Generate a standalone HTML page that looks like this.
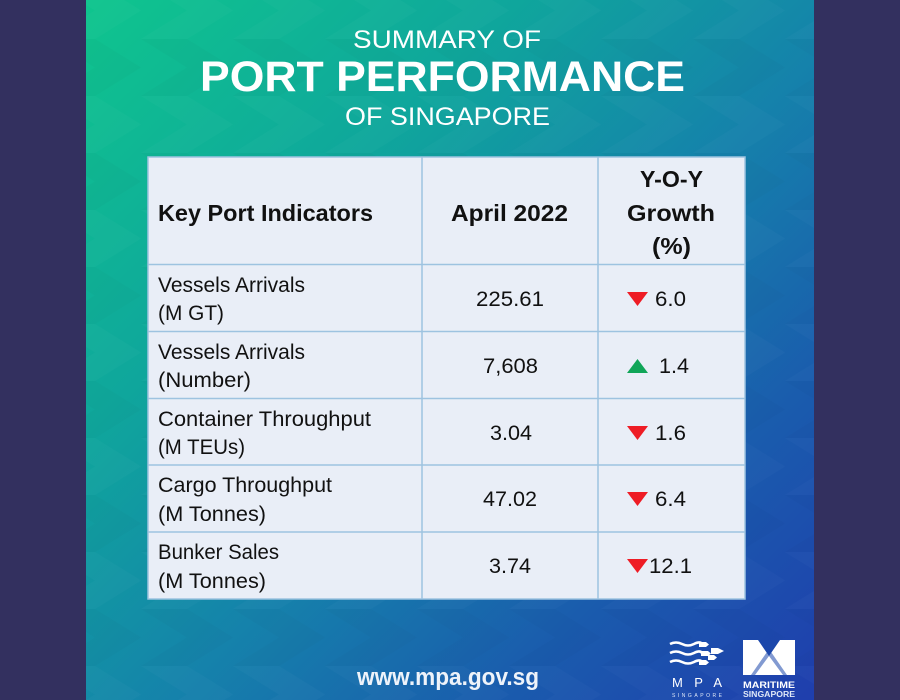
<!DOCTYPE html>
<html lang="en">
<head>
<meta charset="utf-8">
<title>Summary of Port Performance of Singapore</title>
<style>
  html, body { margin: 0; padding: 0; background: #33305f; }
  body { width: 900px; height: 700px; overflow: hidden; }
  svg { display: block; font-family: "Liberation Sans", sans-serif; }
  .cell { fill: #111; font-size: 21px; }
  .head { fill: #111; font-size: 23px; font-weight: bold; }
  .title { fill: #fff; }
</style>
</head>
<body>
<svg width="900" height="700" viewBox="0 0 900 700" xmlns="http://www.w3.org/2000/svg">
  <defs>
    <linearGradient id="bg" gradientUnits="userSpaceOnUse" x1="100" y1="0" x2="800" y2="700">
      <stop offset="0" stop-color="#0fc48e"/>
      <stop offset="0.3" stop-color="#0fa69c"/>
      <stop offset="0.55" stop-color="#1582ab"/>
      <stop offset="0.78" stop-color="#1a5cad"/>
      <stop offset="1" stop-color="#1f3fad"/>
    </linearGradient>
    <pattern id="chev" patternUnits="userSpaceOnUse" x="86" y="-18" width="92" height="114">
      <g fill="#fff" opacity="0.018">
        <polygon points="-37,0 9,0 55,28.500 9,57 -37,57 9,28.500"/>
        <polygon points="55,0 101,0 147,28.500 101,57 55,57 101,28.500"/>
      </g>
      <g fill="#000" opacity="0.018">
        <polygon points="-37,57 9,57 55,85.500 9,114 -37,114 9,85.500"/>
        <polygon points="55,57 101,57 147,85.500 101,114 55,114 101,85.500"/>
      </g>
    </pattern>
  </defs>

  <rect x="0" y="0" width="900" height="700" fill="#33305f"/>
  <rect x="86" y="0" width="728" height="700" fill="url(#bg)"/>
  <rect x="86" y="0" width="728" height="700" fill="url(#chev)"/>

  <text class="title" x="353" y="48" font-size="25" textLength="188" lengthAdjust="spacingAndGlyphs">SUMMARY OF</text>
  <text class="title" x="200" y="91" font-size="43" font-weight="bold" textLength="485" lengthAdjust="spacingAndGlyphs">PORT PERFORMANCE</text>
  <text class="title" x="345" y="125" font-size="25" textLength="205" lengthAdjust="spacingAndGlyphs">OF SINGAPORE</text>

  <g>
    <rect x="148" y="157" width="597" height="442" fill="#e9eef7"/>
    <g stroke="#9dc3e0" stroke-width="1.5" fill="none">
      <rect x="148" y="157" width="597" height="442"/>
      <line x1="422" y1="157" x2="422" y2="599"/>
      <line x1="598" y1="157" x2="598" y2="599"/>
      <line x1="148" y1="264.500" x2="745" y2="264.500"/>
      <line x1="148" y1="331.500" x2="745" y2="331.500"/>
      <line x1="148" y1="398.500" x2="745" y2="398.500"/>
      <line x1="148" y1="465" x2="745" y2="465"/>
      <line x1="148" y1="532" x2="745" y2="532"/>
    </g>

    <text class="head" x="158" y="221" textLength="215" lengthAdjust="spacingAndGlyphs">Key Port Indicators</text>
    <text class="head" x="451" y="221" textLength="117" lengthAdjust="spacingAndGlyphs">April 2022</text>
    <g>
      <text class="head" x="640" y="187" textLength="63" lengthAdjust="spacingAndGlyphs">Y-O-Y</text>
      <text class="head" x="627" y="221" textLength="88" lengthAdjust="spacingAndGlyphs">Growth</text>
      <text class="head" x="652" y="254" textLength="39" lengthAdjust="spacingAndGlyphs">(%)</text>
    </g>

    <g>
      <text class="cell" x="158" y="292" textLength="147" lengthAdjust="spacingAndGlyphs">Vessels Arrivals</text>
      <text class="cell" x="158" y="320" textLength="66" lengthAdjust="spacingAndGlyphs">(M GT)</text>
      <text class="cell" x="476" y="306" textLength="68" lengthAdjust="spacingAndGlyphs">225.61</text>
      <polygon points="627,292 648,292 637.500,306" fill="#ee1c25"/>
      <text class="cell" x="655" y="306" textLength="31" lengthAdjust="spacingAndGlyphs">6.0</text>
    </g>
    <g>
      <text class="cell" x="158" y="359" textLength="147" lengthAdjust="spacingAndGlyphs">Vessels Arrivals</text>
      <text class="cell" x="158" y="387" textLength="93" lengthAdjust="spacingAndGlyphs">(Number)</text>
      <text class="cell" x="483" y="373" textLength="55" lengthAdjust="spacingAndGlyphs">7,608</text>
      <polygon points="627,373 648,373 637.500,359" fill="#10a558"/>
      <text class="cell" x="659" y="373" textLength="30" lengthAdjust="spacingAndGlyphs">1.4</text>
    </g>
    <g>
      <text class="cell" x="158" y="426" textLength="213" lengthAdjust="spacingAndGlyphs">Container Throughput</text>
      <text class="cell" x="158" y="454" textLength="87" lengthAdjust="spacingAndGlyphs">(M TEUs)</text>
      <text class="cell" x="490" y="440" textLength="42" lengthAdjust="spacingAndGlyphs">3.04</text>
      <polygon points="627,426 648,426 637.500,440" fill="#ee1c25"/>
      <text class="cell" x="655" y="440" textLength="31" lengthAdjust="spacingAndGlyphs">1.6</text>
    </g>
    <g>
      <text class="cell" x="158" y="492" textLength="174" lengthAdjust="spacingAndGlyphs">Cargo Throughput</text>
      <text class="cell" x="158" y="521" textLength="108" lengthAdjust="spacingAndGlyphs">(M Tonnes)</text>
      <text class="cell" x="483" y="506" textLength="54" lengthAdjust="spacingAndGlyphs">47.02</text>
      <polygon points="627,492 648,492 637.500,506" fill="#ee1c25"/>
      <text class="cell" x="655" y="506" textLength="31" lengthAdjust="spacingAndGlyphs">6.4</text>
    </g>
    <g>
      <text class="cell" x="158" y="559" textLength="121" lengthAdjust="spacingAndGlyphs">Bunker Sales</text>
      <text class="cell" x="158" y="588" textLength="108" lengthAdjust="spacingAndGlyphs">(M Tonnes)</text>
      <text class="cell" x="489" y="573" textLength="42" lengthAdjust="spacingAndGlyphs">3.74</text>
      <polygon points="627,559 648,559 637.500,573" fill="#ee1c25"/>
      <text class="cell" x="649" y="573" textLength="43" lengthAdjust="spacingAndGlyphs">12.1</text>
    </g>
  </g>

  <text x="357" y="685" fill="#eef3fa" font-size="24" font-weight="bold" textLength="182" lengthAdjust="spacingAndGlyphs">www.mpa.gov.sg</text>

  <g>
    <g fill="none" stroke="#fff" stroke-width="2.600">
      <path d="M670 644 q6 -3 12 0 t12 0 t8 0"/>
      <path d="M670 653 q6 -3 12 0 t12 0 t8 0"/>
      <path d="M670 662 q6 -3 12 0 t12 0 t8 0"/>
    </g>
    <g fill="#fff">
      <polygon points="699,642 706,642 709,644.500 706,647 699,647"/>
      <polygon points="701,651 708,651 711,653.500 708,656 701,656"/>
      <polygon points="711,648 718,648 724,651 718,654 711,654"/>
      <polygon points="699,660 706,660 709,662.500 706,665 699,665"/>
      <polygon points="708,655 714,655 717,657.500 714,660 708,660"/>
    </g>
    <text x="672" y="687" fill="#fff" font-size="13" textLength="50">MPA</text>
    <text x="672" y="697" fill="#dfe8f7" font-size="5" textLength="50">SINGAPORE</text>
  </g>

  <g>
    <rect x="743" y="640" width="52" height="35" fill="#fff"/>
    <polygon points="758,640 780,640 769,656" fill="#1b47ab"/>
    <polygon points="751,675 769,649 787,675 783,675 769,656 755,675" fill="#1b47ab" opacity="0.55"/>
    <text x="743" y="688" fill="#fff" font-size="9" font-weight="bold" textLength="52" lengthAdjust="spacingAndGlyphs">MARITIME</text>
    <text x="743" y="697" fill="#dfe8f7" font-size="8" font-weight="bold" textLength="52" lengthAdjust="spacingAndGlyphs">SINGAPORE</text>
  </g>
</svg>
</body>
</html>
